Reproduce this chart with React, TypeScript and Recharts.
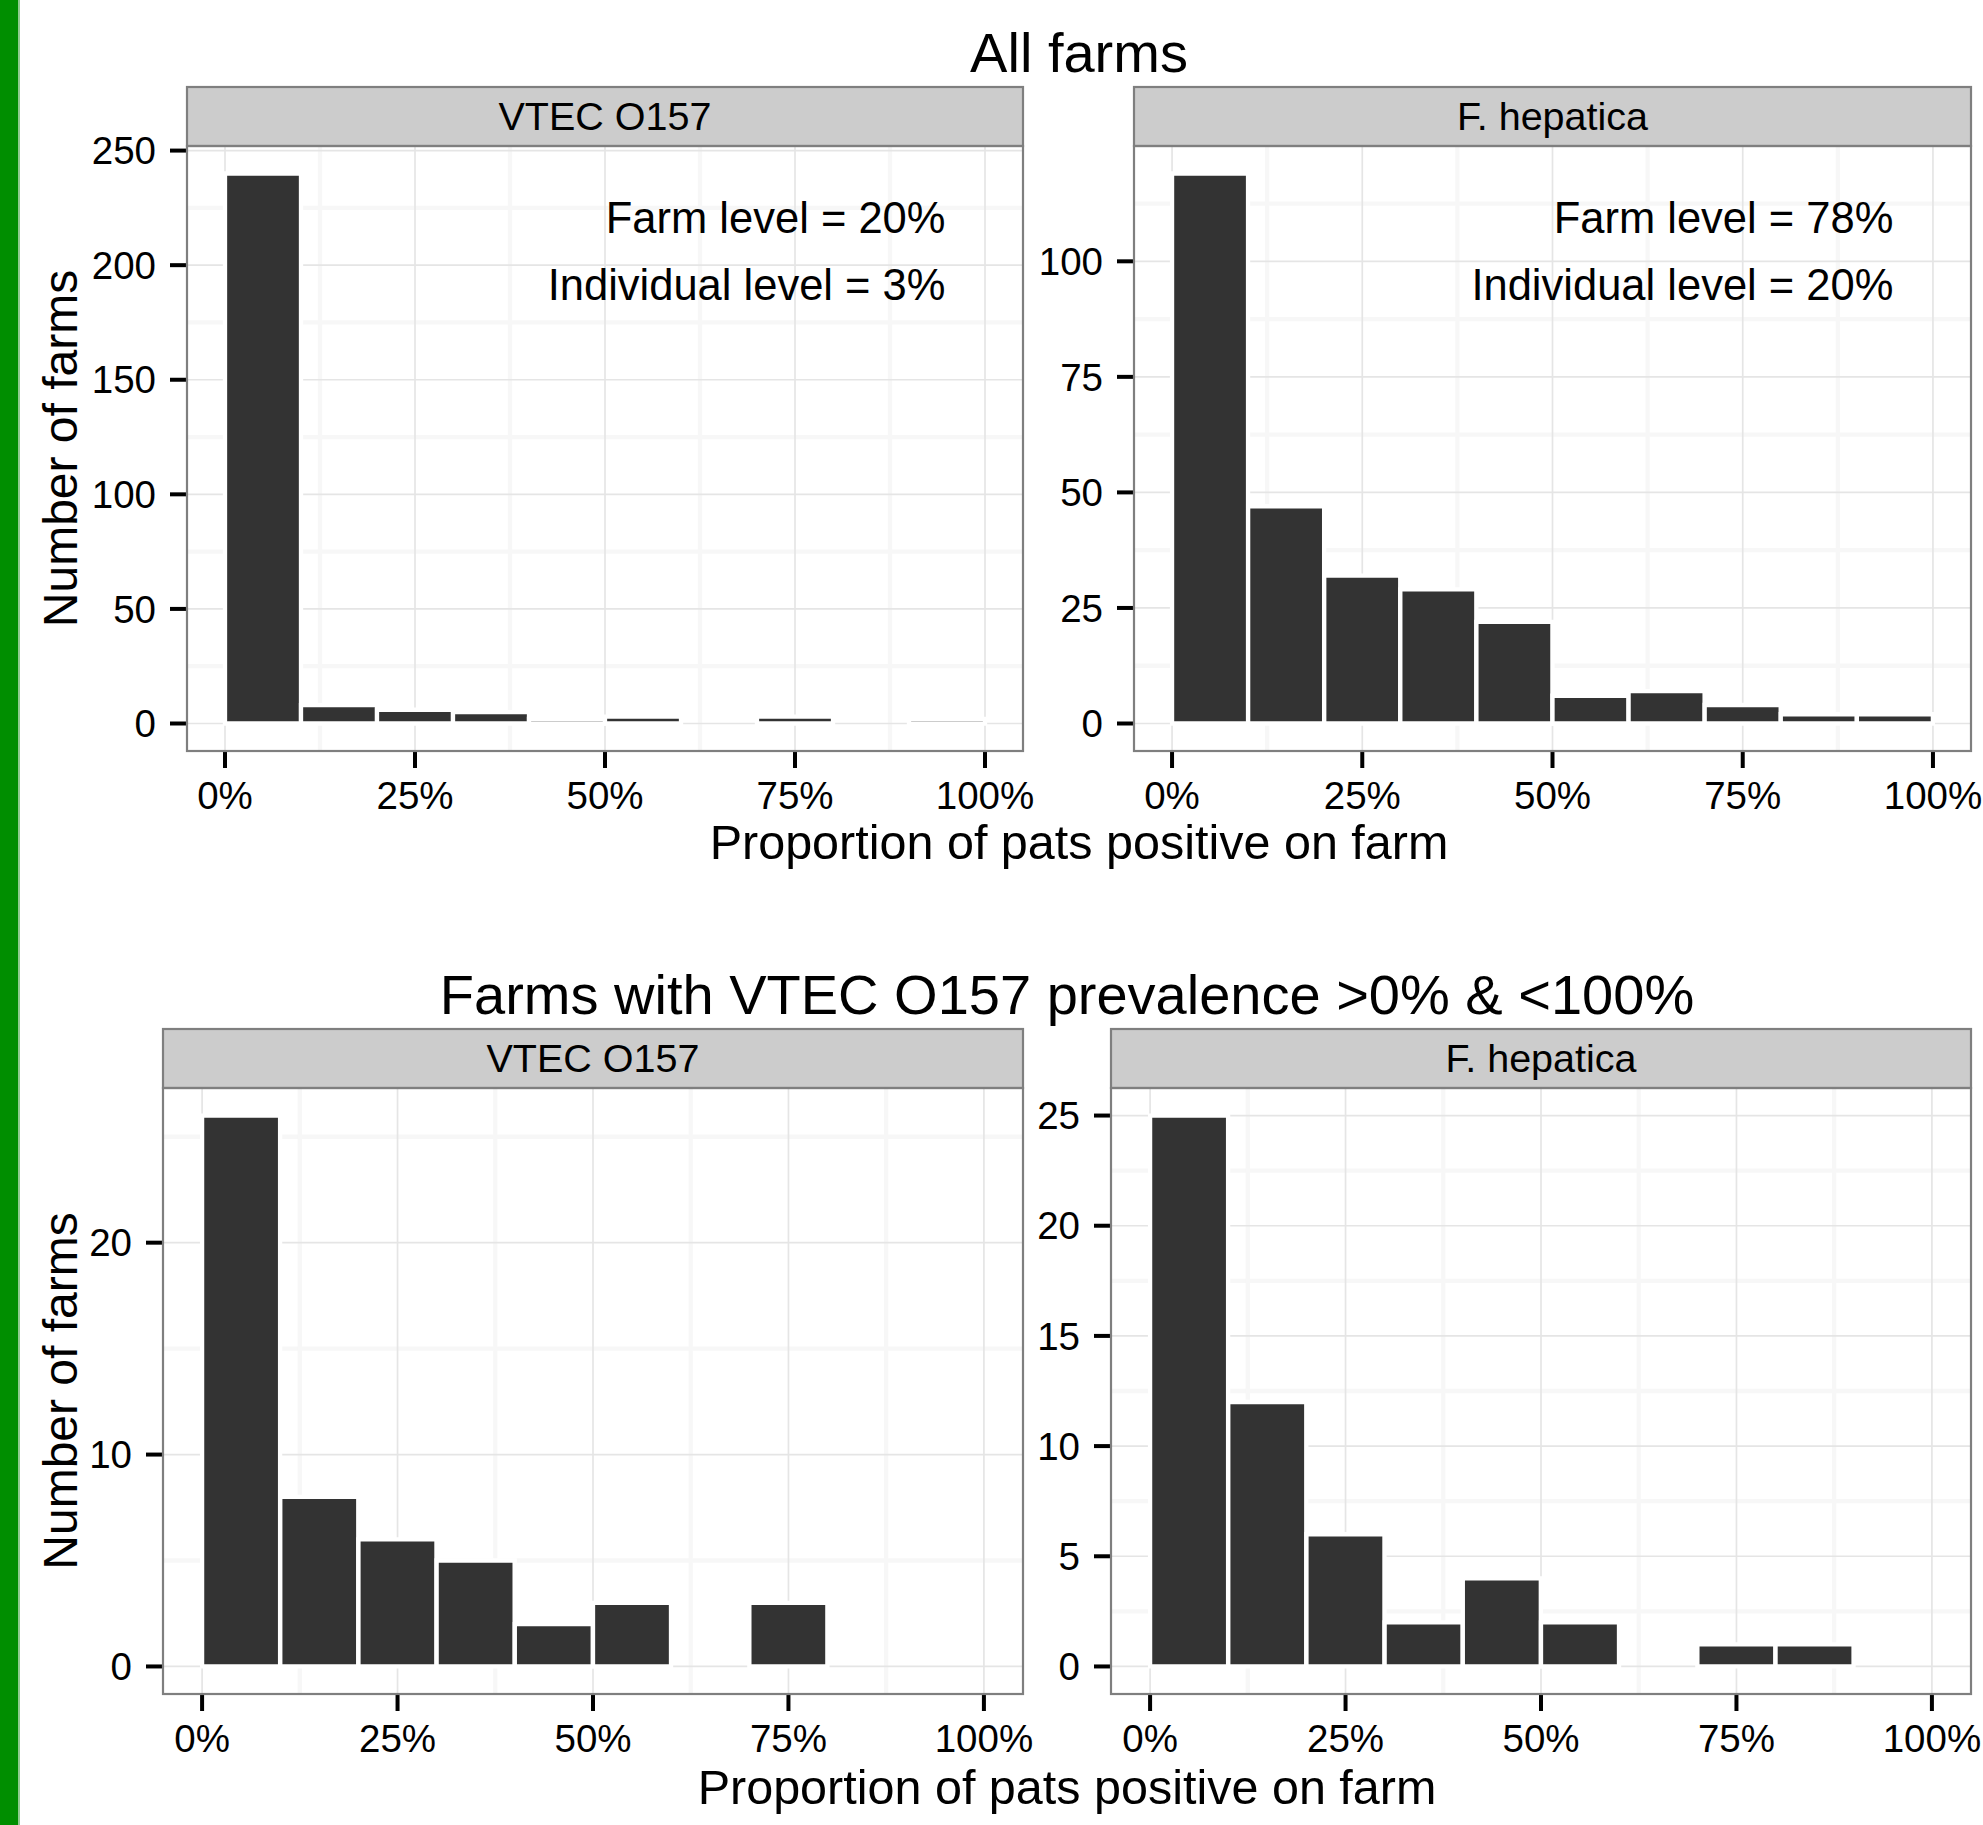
import React from 'react';
import { BarChart, Bar, XAxis, YAxis, CartesianGrid } from 'recharts';

// Histogram bins: 0-10%, 10-20%, ..., 90-100% (bin midpoints)
const binMids = [5, 15, 25, 35, 45, 55, 65, 75, 85, 95];

// Counts of farms per bin
const vtecAllFarms = [240, 8, 6, 5, 2, 3, 0, 3, 0, 2];
const fhepAllFarms = [119, 47, 32, 29, 22, 6, 7, 4, 2, 2];
const vtecSubFarms = [26, 8, 6, 5, 2, 3, 0, 3, 0, 0];
const fhepSubFarms = [25, 12, 6, 2, 4, 2, 0, 1, 1, 0];

// Axis breaks
const xTicks = [0, 25, 50, 75, 100];
const xMinor = [12.5, 37.5, 62.5, 87.5];
const yTicksVtecAll = [0, 50, 100, 150, 200, 250];
const yMinorVtecAll = [25, 75, 125, 175, 225];
const yTicksFhepAll = [0, 25, 50, 75, 100];
const yMinorFhepAll = [12.5, 37.5, 62.5, 87.5, 112.5];
const yTicksVtecSub = [0, 10, 20];
const yMinorVtecSub = [5, 15, 25];
const yTicksFhepSub = [0, 5, 10, 15, 20, 25];
const yMinorFhepSub = [2.5, 7.5, 12.5, 17.5, 22.5];

// Text
const topTitle = 'All farms';
const bottomTitle = 'Farms with VTEC O157 prevalence >0% & <100%';
const stripLabels = ['VTEC O157', 'F. hepatica'];
const xTitle = 'Proportion of pats positive on farm';
const yTitle = 'Number of farms';
const annotVtec = ['Farm level = 20%', 'Individual level = 3%'];
const annotFhep = ['Farm level = 78%', 'Individual level = 20%'];

const FONT = '"Liberation Sans", Arial, Helvetica, sans-serif';

type PanelDef = {
  left: number;
  top: number;
  width: number;
  height: number;
  values: number[];
  yTicks: number[];
  yMinor: number[];
  strip: string;
  annot?: string[];
};

const topRowTop = 146;
const topRowH = 605;
const botRowTop = 1088;
const botRowH = 606;
const stripH = 59;

const panels: PanelDef[] = [
  { left: 187, top: topRowTop, width: 836, height: topRowH, values: vtecAllFarms, yTicks: yTicksVtecAll, yMinor: yMinorVtecAll, strip: stripLabels[0], annot: annotVtec },
  { left: 1134, top: topRowTop, width: 837, height: topRowH, values: fhepAllFarms, yTicks: yTicksFhepAll, yMinor: yMinorFhepAll, strip: stripLabels[1], annot: annotFhep },
  { left: 163, top: botRowTop, width: 860, height: botRowH, values: vtecSubFarms, yTicks: yTicksVtecSub, yMinor: yMinorVtecSub, strip: stripLabels[0] },
  { left: 1111, top: botRowTop, width: 860, height: botRowH, values: fhepSubFarms, yTicks: yTicksFhepSub, yMinor: yMinorFhepSub, strip: stripLabels[1] },
];

const YW = 160;
const MT = 30;
const MR = 60;
const XH = 100;

function Panel({ p }: { p: PanelDef }) {
  const data = binMids.map((m, i) => ({ mid: m, count: p.values[i] }));
  const max = Math.max(...p.values);
  const domain: [number, number] = [-0.05 * max, 1.05 * max];
  const tickStyle = { fontSize: 38.5, fill: '#000000', fontFamily: FONT };
  const tickLine = { stroke: '#000000', strokeWidth: 4 };
  return (
    <div style={{ position: 'absolute', left: p.left - YW, top: p.top - MT }}>
      <BarChart
        width={YW + p.width + MR}
        height={MT + p.height + XH}
        data={data}
        margin={{ top: MT, right: MR, bottom: 0, left: 0 }}
        barCategoryGap={0}
        barGap={0}
      >
        <CartesianGrid
          horizontalValues={p.yMinor}
          verticalValues={xMinor}
          stroke="#F7F7F7"
          strokeWidth={4.3}
        />
        <CartesianGrid
          horizontalValues={p.yTicks}
          verticalValues={xTicks}
          stroke="#E5E5E5"
          strokeWidth={1.7}
        />
        <XAxis
          type="number"
          dataKey="mid"
          domain={[-5, 105]}
          ticks={xTicks}
          interval={0}
          allowDataOverflow
          tickFormatter={(v: number) => `${v}%`}
          height={XH}
          axisLine={false}
          stroke="#000000"
          tickLine={tickLine}
          tickSize={17}
          tickMargin={14}
          tick={tickStyle}
        />
        <YAxis
          type="number"
          domain={domain}
          ticks={p.yTicks}
          interval={0}
          allowDataOverflow
          width={YW}
          axisLine={false}
          stroke="#000000"
          tickLine={tickLine}
          tickSize={17}
          tickMargin={14}
          tick={tickStyle}
        />
        <Bar
          dataKey="count"
          fill="#333333"
          stroke="#FFFFFF"
          strokeWidth={4.3}
          isAnimationActive={false}
        />
      </BarChart>
    </div>
  );
}

export default function App() {
  return (
    <div
      style={{
        position: 'absolute',
        left: 0,
        top: 0,
        width: 1983,
        height: 1825,
        background: '#FFFFFF',
        overflow: 'hidden',
        fontFamily: FONT,
      }}
    >
      <div style={{ position: 'absolute', left: 0, top: 0, width: 18, height: 1825, background: '#008E00' }} />
      <div style={{ position: 'absolute', left: 18, top: 0, width: 2, height: 1825, background: '#8FCB8F' }} />
      {panels.map((p, i) => (
        <Panel key={i} p={p} />
      ))}
      <svg
        width={1983}
        height={1825}
        style={{ position: 'absolute', left: 0, top: 0, pointerEvents: 'none' }}
        fontFamily={FONT}
      >
        {panels.map((p, i) => (
          <g key={i}>
            <rect
              x={p.left}
              y={p.top - stripH}
              width={p.width}
              height={stripH}
              fill="#CCCCCC"
              stroke="#7F7F7F"
              strokeWidth={2.2}
            />
            <text
              x={p.left + p.width / 2}
              y={p.top - stripH + 43}
              fontSize={39.5}
              textAnchor="middle"
              fill="#000000"
            >
              {p.strip}
            </text>
            <rect
              x={p.left}
              y={p.top}
              width={p.width}
              height={p.height}
              fill="none"
              stroke="#7F7F7F"
              strokeWidth={2.2}
            />
            {p.annot &&
              p.annot.map((t, j) => (
                <text
                  key={j}
                  x={p.left + ((94.8 + 5) / 110) * p.width}
                  y={233 + j * 67}
                  fontSize={43.5}
                  textAnchor="end"
                  fill="#000000"
                >
                  {t}
                </text>
              ))}
          </g>
        ))}
        <text x={1079} y={72} fontSize={56} textAnchor="middle" fill="#000000">
          {topTitle}
        </text>
        <text x={1067} y={1014} fontSize={56} textAnchor="middle" fill="#000000">
          {bottomTitle}
        </text>
        <text x={1079} y={859} fontSize={48.5} textAnchor="middle" fill="#000000">
          {xTitle}
        </text>
        <text x={1067} y={1804} fontSize={48.5} textAnchor="middle" fill="#000000">
          {xTitle}
        </text>
        <text
          x={77}
          y={448.5}
          fontSize={48}
          textAnchor="middle"
          fill="#000000"
          transform="rotate(-90 77 448.5)"
        >
          {yTitle}
        </text>
        <text
          x={77}
          y={1391}
          fontSize={48}
          textAnchor="middle"
          fill="#000000"
          transform="rotate(-90 77 1391)"
        >
          {yTitle}
        </text>
      </svg>
    </div>
  );
}
